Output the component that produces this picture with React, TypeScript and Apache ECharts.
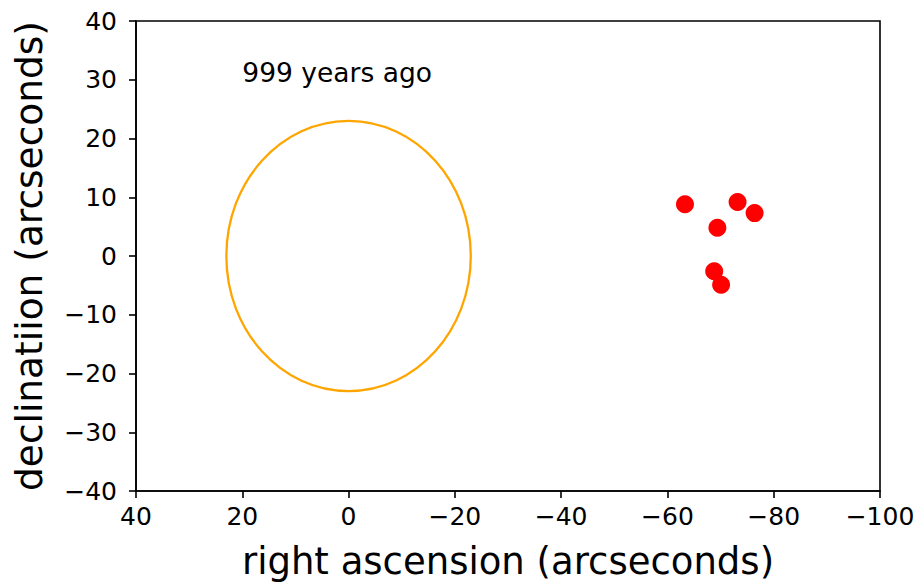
import React, { useEffect, useRef } from "react";
import * as echarts from "echarts";

// Data
const starPositions: [number, number][] = [
  [-63.3, 8.8],
  [-73.2, 9.2],
  [-76.4, 7.3],
  [-69.4, 4.8],
  [-68.8, -2.6],
  [-70.1, -4.9],
];
// ellipse: [center RA, center Dec, radius]
const ringShape: [number, number, number][] = [[0, 0, 23]];
const annotationPos: [number, number][] = [[20, 30]];
const annotationText = "999 years ago";
const xTitle = "right ascension (arcseconds)";
const yTitle = "declinatiion (arcseconds)";
const xRange = { min: -100, max: 40, interval: 20 };
const yRange = { min: -40, max: 40, interval: 10 };

const FONT = "DejaVu Sans";
const fmt = (v: number) => String(v).replace("-", "\u2212");

export default function App() {
  const ref = useRef<HTMLDivElement>(null);
  useEffect(() => {
    if (!ref.current) return;
    const chart = echarts.init(ref.current, undefined, { renderer: "svg" });
    const axisCommon = {
      axisLine: { show: true, onZero: false, lineStyle: { color: "#000", width: 1.6 } },
      axisTick: { show: true, length: 7, lineStyle: { color: "#000", width: 1.6 } },
      splitLine: { show: false },
    };
    chart.setOption({
      animation: false,
      backgroundColor: "#fff",
      grid: {
        left: 136,
        right: 43,
        top: 21,
        bottom: 93,
        show: true,
        borderColor: "#000",
        borderWidth: 1.6,
        backgroundColor: "transparent",
      },
      xAxis: {
        type: "value",
        inverse: true,
        min: xRange.min,
        max: xRange.max,
        interval: xRange.interval,
        name: xTitle,
        nameLocation: "middle",
        nameGap: 52,
        nameTextStyle: { fontFamily: FONT, fontSize: 37, color: "#000" },
        ...axisCommon,
        axisLabel: {
          fontFamily: FONT,
          fontSize: 25,
          color: "#000",
          margin: 13,
          formatter: fmt,
        },
      },
      yAxis: {
        type: "value",
        min: yRange.min,
        max: yRange.max,
        interval: yRange.interval,
        name: yTitle,
        nameLocation: "middle",
        nameGap: 88,
        nameRotate: 90,
        nameTextStyle: { fontFamily: FONT, fontSize: 37.5, color: "#000" },
        ...axisCommon,
        axisLabel: {
          fontFamily: FONT,
          fontSize: 25,
          color: "#000",
          margin: 19,
          formatter: fmt,
        },
      },
      series: [
        {
          type: "custom",
          data: ringShape,
          renderItem: (params: any, api: any) => {
            const c = api.coord([api.value(0), api.value(1)]);
            const s = api.size([api.value(2), api.value(2)]);
            return {
              type: "ellipse",
              shape: { cx: c[0], cy: c[1], rx: Math.abs(s[0]), ry: Math.abs(s[1]) },
              style: { fill: "none", stroke: "#FFA500", lineWidth: 2.3 },
            };
          },
          z: 2,
        },
        {
          type: "scatter",
          data: starPositions,
          symbol: "circle",
          symbolSize: 18,
          itemStyle: { color: "#FF0000", opacity: 1 },
          z: 3,
        },
        {
          type: "scatter",
          data: annotationPos,
          symbolSize: 0,
          silent: true,
          itemStyle: { opacity: 1 },
          label: {
            show: true,
            position: [0, 0],
            align: "left",
            verticalAlign: "bottom",
            offset: [0, 6],
            formatter: () => annotationText,
            fontFamily: FONT,
            fontSize: 26.5,
            color: "#000",
          },
          z: 4,
        },
      ],
    });
    return () => chart.dispose();
  }, []);
  return (
    <div
      ref={ref}
      style={{ position: "fixed", left: 0, top: 0, width: 923, height: 585 }}
    />
  );
}
